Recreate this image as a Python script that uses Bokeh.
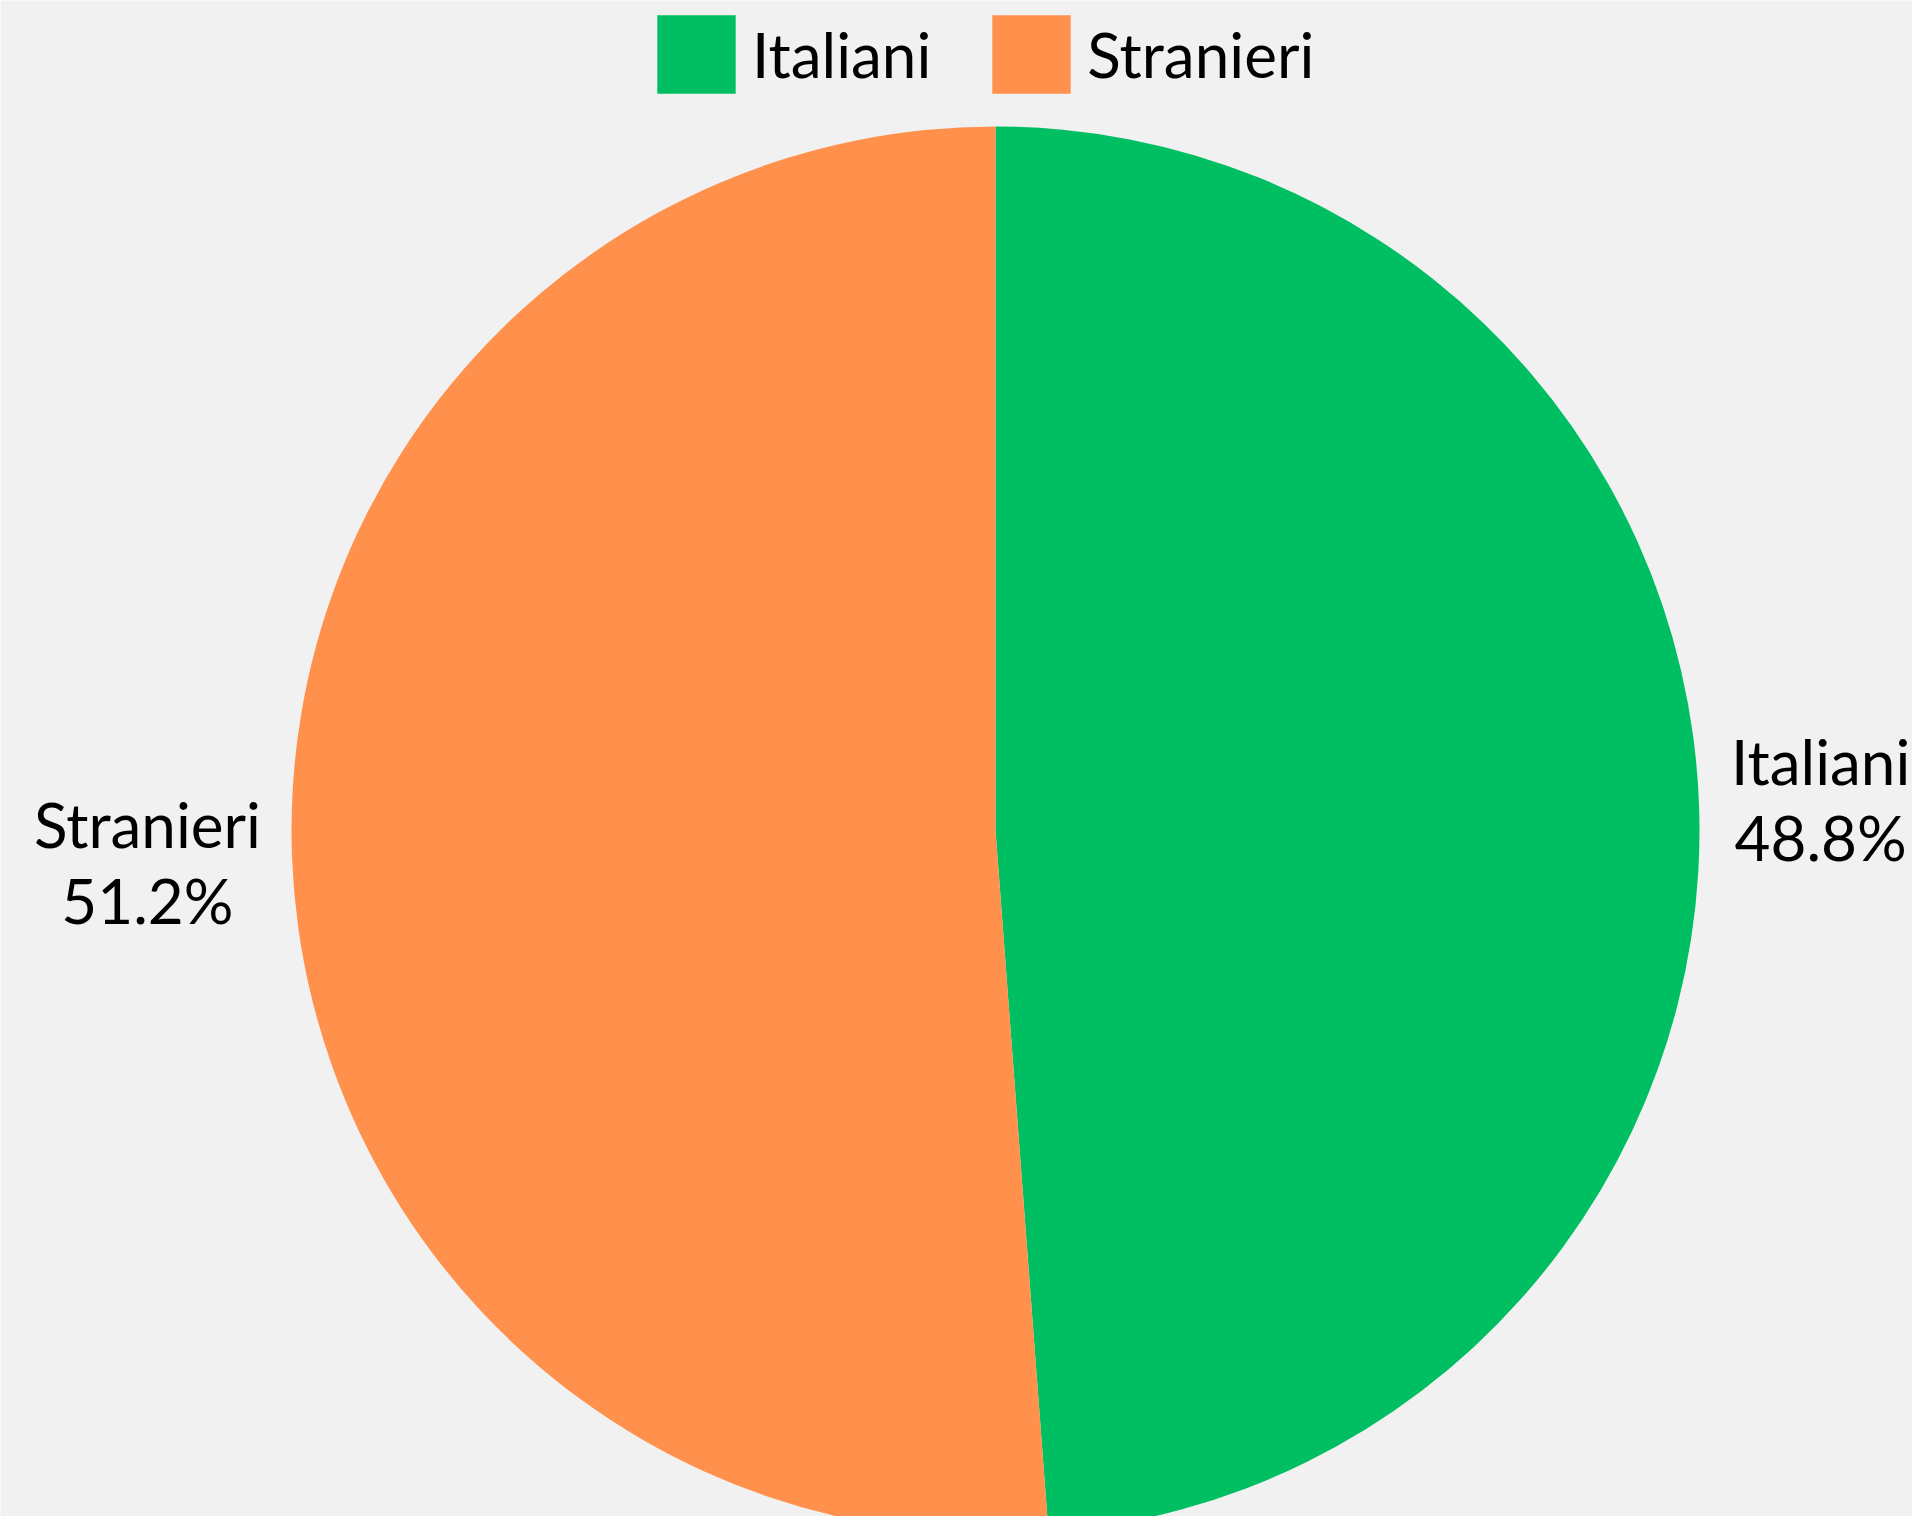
import math
from bokeh.plotting import figure
from bokeh.models import ColumnDataSource, Range1d, Legend, LegendItem
from bokeh.core.properties import value
from bokeh.embed import file_html
from bokeh.resources import INLINE

# ---- data ----
categories = ["Italiani", "Stranieri"]
percentages = [48.8, 51.2]
colors = ["#00BF63", "#FF914D"]

# ---- layout (pixels) ----
W, H = 1912, 1516
cx, cy, R = 995.0, H - 830.0, 704.0
label_gap = 34          # gap between pie edge and the label block
FONT = "Lato"
FS_PX = 62
FS = f"{FS_PX}px"
SWATCH = 98             # legend glyph box (drawn swatch is 80% of it)
PAD = 0

# rough Lato advance widths (em) used to centre the two-line label blocks
_adv = {"I": 0.27, "t": 0.36, "a": 0.48, "l": 0.23, "i": 0.23, "n": 0.55,
        "S": 0.49, "r": 0.36, "e": 0.51, ".": 0.24, "%": 0.80}


def text_width(s):
    return FS_PX * sum(_adv.get(ch, 0.58) for ch in s)


total = sum(percentages)
starts, ends, lx, ly, labels = [], [], [], [], []
a = math.pi / 2
for cat, v in zip(categories, percentages):
    sweep = 2 * math.pi * v / total
    starts.append(a)
    ends.append(a - sweep)
    mid = a - sweep / 2
    lines = [cat, f"{v:.1f}%"]
    half_w = 0.5 * max(text_width(s) for s in lines)
    r_lab = R + label_gap + half_w
    lx.append(cx + r_lab * math.cos(mid))
    ly.append(cy + (R + 135) * math.sin(mid))
    labels.append("\n".join(lines))
    a -= sweep

src = ColumnDataSource(dict(cat=categories, start=starts, end=ends, color=colors,
                            lx=lx, ly=ly, label=labels,
                            x=[cx] * len(categories), y=[cy] * len(categories)))

p = figure(width=W, height=H, output_backend="svg", toolbar_location=None,
           x_range=Range1d(0, W), y_range=Range1d(0, H),
           min_border=0, x_axis_location=None, y_axis_location=None)
p.grid.visible = False
p.outline_line_color = None
p.background_fill_color = "#f1f1f1"
p.border_fill_color = "#f1f1f1"

w = p.wedge(x="x", y="y", radius=R, start_angle="start", end_angle="end",
            direction="clock", fill_color="color", line_color=None, source=src)

p.text(x="lx", y="ly", text="label", source=src, text_align="center",
       text_baseline="middle", text_font=value(FONT), text_font_size=FS,
       text_color="#000000", text_line_height=1.02)

items = [LegendItem(label=c, renderers=[w], index=i) for i, c in enumerate(categories)]
legend = Legend(items=items, orientation="horizontal",
                location=(647, H - SWATCH - 2 * PAD - 5),
                glyph_width=SWATCH, glyph_height=SWATCH, label_standoff=7, spacing=51,
                label_text_font=FONT, label_text_font_size=FS,
                label_text_color="#000000", background_fill_alpha=0,
                border_line_color=None, margin=0, padding=PAD, label_height=SWATCH)
p.add_layout(legend)

open("out.html", "w").write(file_html(p, INLINE))
